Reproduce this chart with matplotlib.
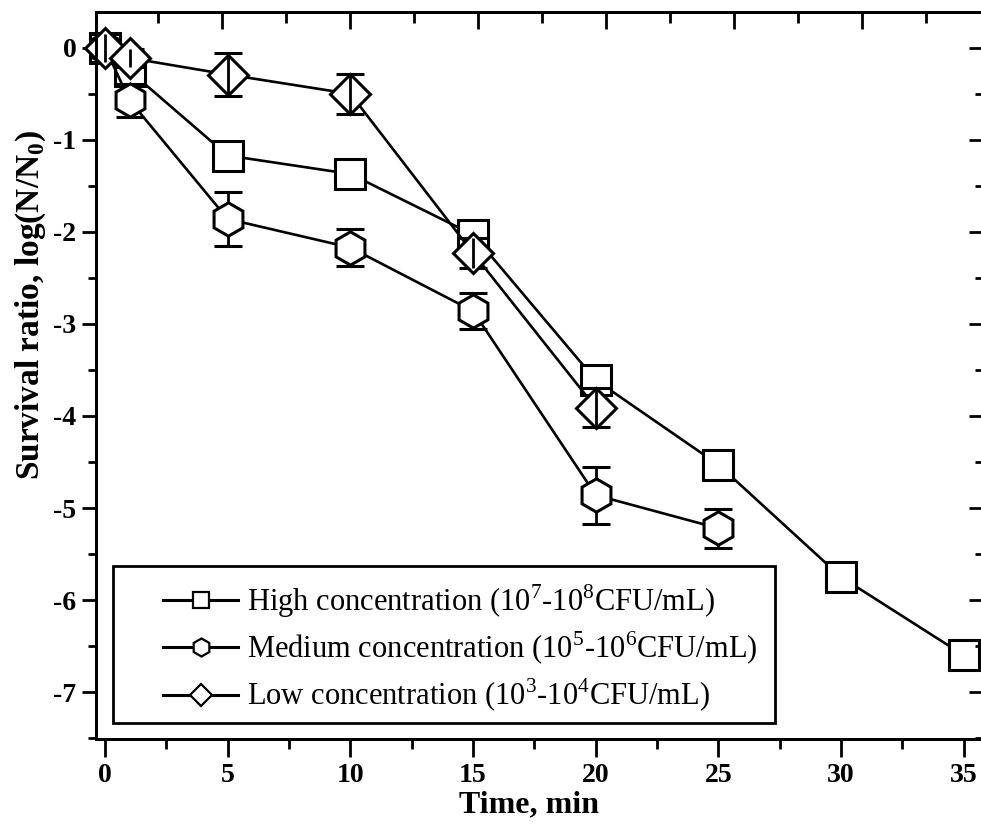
import matplotlib
matplotlib.use("Agg")
import matplotlib.pyplot as plt
from matplotlib.lines import Line2D
from matplotlib.patches import Rectangle
from matplotlib.ticker import MultipleLocator, NullFormatter

plt.rcParams.update({
    "font.family": ["Liberation Serif", "DejaVu Serif"],
    "mathtext.fontset": "custom",
    "mathtext.rm": "Liberation Serif",
    "mathtext.bf": "Liberation Serif:bold",
    "axes.unicode_minus": False,
})

# ---------------------------------------------------------------------------
# data
# ---------------------------------------------------------------------------
t_high = [0, 1, 5, 10, 15, 20, 25, 30, 35]
y_high = [0, -0.25, -1.17, -1.37, -2.03, -3.61, -4.53, -5.75, -6.60]
e_high = [0.05, 0.12, 0.05, 0.05, 0.05, 0.05, 0.05, 0.05, 0.05]

t_med = [0, 1, 5, 10, 15, 20, 25]
y_med = [0, -0.57, -1.86, -2.17, -2.86, -4.86, -5.22]
e_med = [0.05, 0.18, 0.29, 0.20, 0.20, 0.31, 0.21]

t_low = [0, 1, 5, 10, 15, 20]
y_low = [0, -0.11, -0.29, -0.50, -2.23, -3.91]
e_low = [0.15, 0.10, 0.23, 0.22, 0.16, 0.21]

labels = [
    "High concentration (10$^7$-10$^8$CFU/mL)",
    "Medium concentration (10$^5$-10$^6$CFU/mL)",
    "Low concentration (10$^3$-10$^4$CFU/mL)",
]
markers = ["s", "h", "D"]
msizes = [21, 24, 20]
leg_msizes = [11, 13, 11]

fig = plt.figure(figsize=(9.81, 8.25), dpi=100)
ax = fig.add_axes([0.0979, 0.1042, 0.9041, 0.8813])

series = [(t_high, y_high, e_high), (t_med, y_med, e_med), (t_low, y_low, e_low)]
for i, ((t, y, e), m, ms) in enumerate(zip(series, markers, msizes)):
    line, caps, bars = ax.errorbar(t, y, yerr=e, fmt="-", marker=m, ms=ms,
                                   mfc="white", mec="black", mew=2.2,
                                   color="black", lw=1.9, ecolor="black",
                                   elinewidth=2, capsize=10, capthick=2.2,
                                   zorder=2 + i, clip_on=False)
    if m == "D":
        for b in bars:
            b.set_zorder(2 + i + 0.5)

ax.set_xlim(-0.367, 35.78)
ax.set_ylim(-7.51, 0.39)
ax.xaxis.set_major_locator(MultipleLocator(5))
ax.xaxis.set_minor_locator(MultipleLocator(2.5))
ax.yaxis.set_major_locator(MultipleLocator(1))
ax.yaxis.set_minor_locator(MultipleLocator(0.5))
ax.tick_params(axis="x", which="major", direction="out", length=13, width=2,
               labelsize=20, pad=4)
ax.tick_params(axis="x", which="minor", direction="out", length=7, width=2)
ax.tick_params(axis="y", which="major", direction="out", length=10, width=2,
               labelsize=20, pad=4)
ax.tick_params(axis="y", which="minor", direction="out", length=6, width=2)
for lab in ax.get_xticklabels() + ax.get_yticklabels():
    lab.set_fontweight("bold")
for sp in ax.spines.values():
    sp.set_linewidth(2)

# right axis: ticks pointing in
axr = ax.twinx()
axr.set_ylim(ax.get_ylim())
axr.yaxis.set_major_locator(MultipleLocator(1))
axr.yaxis.set_minor_locator(MultipleLocator(0.5))
axr.yaxis.set_major_formatter(NullFormatter())
axr.tick_params(axis="y", which="major", direction="in", length=10, width=2)
axr.tick_params(axis="y", which="minor", direction="in", length=6, width=2)

# top axis: ticks pointing in (slightly different spacing in the original)
axt = ax.twiny()
axt.set_xlim(0.078, 34.73)
axt.xaxis.set_major_locator(MultipleLocator(5))
axt.xaxis.set_minor_locator(MultipleLocator(2.5))
axt.xaxis.set_major_formatter(NullFormatter())
axt.tick_params(axis="x", which="major", direction="in", length=12, width=2)
axt.tick_params(axis="x", which="minor", direction="in", length=8, width=2)
for a in (axr, axt):
    for sp in a.spines.values():
        sp.set_linewidth(2)

ax.set_xlabel("Time, min", fontsize=23, fontweight="bold")
ax.xaxis.set_label_coords(0.488, -0.071)
ax.set_ylabel("Survival ratio, log(N/N$_\\mathbf{0}$)", fontsize=24,
              fontweight="bold")
ax.yaxis.set_label_coords(-0.054, 0.597)

# legend with square frame
handles = [Line2D([], [], color="black", lw=2.2, marker=m, ms=s, mfc="white",
                  mec="black", mew=1.6)
           for m, s in zip(markers, leg_msizes)]
ax.add_patch(Rectangle((0.019, 0.022), 0.747, 0.216, transform=ax.transAxes,
                       fill=False, lw=2, ec="black", zorder=6))
leg = ax.legend(handles, labels, loc="center left",
                bbox_to_anchor=(0.0586, 0.125), frameon=False, fontsize=22,
                borderpad=0, handlelength=2.45, handletextpad=0.3,
                labelspacing=0.33)
leg.set_zorder(6)

fig.savefig("out.png", dpi=100)
